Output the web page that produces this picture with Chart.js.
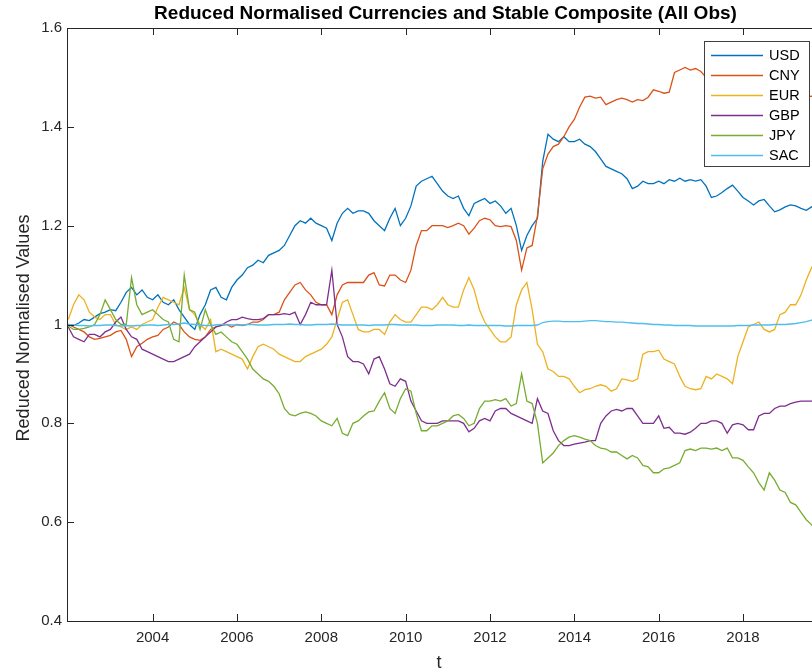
<!DOCTYPE html>
<html><head><meta charset="utf-8">
<script src="https://cdn.jsdelivr.net/npm/chart.js@4"></script>
<style>html,body{margin:0;padding:0;overflow:hidden;background:#fff;width:812px;height:672px}canvas{display:block}</style>
</head><body>
<canvas id="c" width="824" height="672"></canvas>
<script>
// time axis: eighths of a year from 2002.0 to 2019.625, plus final observation
const t = [];
for (let i = 0; i < 142; i++) t.push(2002 + i / 8);
t.push(2019.75);

const usd = [
1.000,0.998,1.003,1.010,1.008,1.015,1.022,1.025,
1.030,1.028,1.045,1.065,1.075,1.060,1.070,1.055,
1.050,1.060,1.045,1.040,1.050,1.030,1.015,1.000,
0.990,1.020,1.040,1.070,1.075,1.055,1.050,1.075,
1.090,1.100,1.115,1.120,1.130,1.125,1.140,1.145,
1.150,1.160,1.180,1.200,1.210,1.205,1.215,1.205,
1.200,1.195,1.170,1.205,1.225,1.235,1.225,1.230,
1.230,1.225,1.210,1.200,1.190,1.215,1.235,1.200,
1.215,1.240,1.280,1.290,1.295,1.300,1.285,1.270,
1.260,1.255,1.260,1.235,1.220,1.245,1.250,1.255,
1.245,1.250,1.240,1.225,1.235,1.200,1.150,1.180,
1.200,1.215,1.330,1.385,1.375,1.370,1.380,1.370,
1.370,1.375,1.365,1.360,1.350,1.335,1.320,1.315,
1.310,1.305,1.295,1.275,1.280,1.290,1.285,1.285,
1.290,1.285,1.293,1.290,1.296,1.290,1.293,1.290,
1.293,1.280,1.257,1.260,1.267,1.275,1.282,1.270,
1.257,1.250,1.242,1.250,1.253,1.240,1.228,1.232,
1.238,1.242,1.240,1.235,1.231,1.238,1.245];

const cny = [
1.000,0.995,0.990,0.985,0.975,0.970,0.972,0.975,
0.978,0.985,0.988,0.970,0.935,0.955,0.962,0.970,
0.975,0.978,0.990,0.995,1.005,1.000,0.985,0.975,
0.970,0.968,0.975,0.990,0.995,0.998,1.000,0.995,
1.000,0.998,1.000,1.005,1.005,1.010,1.020,1.020,
1.025,1.050,1.065,1.080,1.085,1.070,1.060,1.045,
1.040,1.040,1.020,1.060,1.080,1.085,1.085,1.085,
1.085,1.100,1.105,1.080,1.078,1.100,1.100,1.090,
1.085,1.110,1.160,1.190,1.190,1.200,1.200,1.200,
1.196,1.200,1.205,1.200,1.183,1.195,1.210,1.215,
1.212,1.200,1.198,1.200,1.198,1.170,1.110,1.155,
1.160,1.220,1.315,1.345,1.360,1.365,1.380,1.400,
1.415,1.440,1.460,1.462,1.458,1.460,1.445,1.450,
1.455,1.458,1.455,1.450,1.455,1.453,1.460,1.475,
1.472,1.468,1.470,1.510,1.515,1.520,1.515,1.518,
1.512,1.500,1.490,1.480,1.470,1.465,1.470,1.475,
1.480,1.485,1.480,1.475,1.470,1.465,1.460,1.470,
1.475,1.470,1.465,1.460,1.460,1.462,1.460];

const eur = [
1.010,1.040,1.060,1.050,1.025,1.015,1.010,1.020,
1.020,1.000,0.995,0.990,0.995,0.990,1.000,1.005,
1.010,1.035,1.055,1.050,1.045,1.040,1.075,1.030,
1.020,1.000,0.990,1.010,0.945,0.950,0.945,0.940,
0.935,0.930,0.910,0.935,0.955,0.960,0.955,0.950,
0.940,0.935,0.930,0.925,0.925,0.935,0.940,0.945,
0.950,0.960,0.975,1.010,1.045,1.050,1.020,0.990,
0.985,0.985,0.990,0.990,0.980,1.005,1.020,1.010,
1.005,1.005,1.020,1.035,1.035,1.030,1.040,1.055,
1.040,1.035,1.035,1.070,1.095,1.070,1.030,1.005,
0.990,0.975,0.965,0.965,0.975,1.040,1.070,1.085,
1.030,0.960,0.945,0.910,0.905,0.895,0.895,0.890,
0.875,0.862,0.868,0.870,0.875,0.878,0.875,0.865,
0.870,0.890,0.888,0.885,0.890,0.940,0.945,0.945,
0.948,0.930,0.925,0.920,0.895,0.875,0.870,0.868,
0.870,0.895,0.890,0.900,0.895,0.890,0.880,0.935,
0.965,0.995,1.000,1.005,0.990,0.985,0.990,1.020,
1.025,1.040,1.040,1.060,1.090,1.115,1.130];

const gbp = [
0.995,0.975,0.970,0.965,0.980,0.980,0.975,0.985,
0.990,1.005,1.015,0.990,0.975,0.970,0.950,0.945,
0.940,0.935,0.930,0.925,0.925,0.930,0.935,0.940,
0.955,0.965,0.975,0.985,0.995,0.998,1.005,1.010,
1.010,1.015,1.012,1.010,1.010,1.012,1.020,1.020,
1.020,1.022,1.020,1.025,1.000,1.020,1.045,1.040,
1.040,1.040,1.110,1.000,0.975,0.935,0.925,0.925,
0.920,0.900,0.930,0.935,0.910,0.880,0.875,0.890,
0.885,0.845,0.825,0.805,0.800,0.800,0.800,0.805,
0.805,0.805,0.805,0.800,0.783,0.790,0.805,0.810,
0.805,0.825,0.830,0.830,0.820,0.815,0.810,0.805,
0.800,0.850,0.825,0.820,0.785,0.765,0.755,0.755,
0.758,0.760,0.762,0.765,0.765,0.800,0.815,0.825,
0.828,0.825,0.830,0.830,0.815,0.800,0.800,0.800,
0.815,0.790,0.792,0.780,0.780,0.778,0.782,0.790,
0.800,0.800,0.805,0.805,0.800,0.780,0.797,0.800,
0.797,0.787,0.787,0.815,0.820,0.820,0.830,0.835,
0.835,0.840,0.843,0.845,0.845,0.845,0.848];

const jpy = [
0.997,0.990,0.990,0.992,0.995,1.000,1.020,1.050,
1.030,1.010,1.000,1.000,1.095,1.040,1.020,1.025,
1.030,1.020,1.010,1.005,0.970,0.965,1.100,1.030,
1.025,0.990,1.030,1.000,0.980,0.985,0.975,0.965,
0.960,0.945,0.930,0.910,0.900,0.890,0.885,0.875,
0.860,0.830,0.818,0.815,0.820,0.823,0.820,0.815,
0.805,0.800,0.795,0.810,0.780,0.775,0.800,0.805,
0.815,0.823,0.825,0.845,0.862,0.830,0.820,0.850,
0.870,0.865,0.820,0.785,0.785,0.795,0.795,0.800,
0.805,0.815,0.818,0.810,0.795,0.800,0.830,0.845,
0.845,0.848,0.845,0.850,0.835,0.840,0.900,0.845,
0.840,0.800,0.720,0.730,0.740,0.755,0.765,0.772,
0.775,0.772,0.768,0.765,0.755,0.750,0.748,0.742,
0.742,0.735,0.728,0.735,0.730,0.715,0.712,0.700,
0.700,0.708,0.710,0.715,0.720,0.745,0.748,0.745,
0.750,0.750,0.748,0.750,0.745,0.750,0.730,0.730,
0.725,0.712,0.700,0.680,0.665,0.700,0.685,0.665,
0.660,0.640,0.635,0.620,0.605,0.595,0.580];

const sac = [
1.000,0.999,0.998,0.998,0.997,0.998,0.998,0.999,
0.999,0.998,0.997,0.998,0.997,0.998,0.998,0.999,
0.999,0.998,0.999,1.000,1.000,1.001,1.003,1.001,
1.000,0.999,0.998,0.998,0.999,1.000,1.000,0.999,
0.999,0.999,1.000,1.000,0.999,0.999,0.999,1.000,
1.000,1.000,1.001,1.000,1.000,0.999,0.999,1.000,
1.000,1.000,1.001,1.000,0.999,0.999,0.999,0.999,
0.999,0.998,0.999,0.999,0.999,1.000,1.000,0.999,
0.999,0.999,0.999,0.998,0.998,0.998,0.999,0.999,
0.999,0.999,0.998,0.998,0.999,0.998,0.998,0.998,
0.998,0.998,0.998,0.997,0.997,0.998,0.998,0.998,
0.998,0.999,1.004,1.006,1.007,1.007,1.006,1.006,
1.006,1.006,1.007,1.008,1.008,1.007,1.006,1.006,
1.005,1.005,1.004,1.003,1.002,1.002,1.001,1.000,
1.000,0.999,0.999,0.998,0.998,0.998,0.998,0.997,
0.997,0.997,0.997,0.997,0.997,0.997,0.997,0.998,
0.998,0.998,0.999,0.999,0.999,0.999,1.000,1.000,
1.000,1.001,1.002,1.004,1.006,1.009,1.012];

const seriesNames = ['USD','CNY','EUR','GBP','JPY','SAC'];
const seriesColors = ['#0072BD','#D95319','#EDB120','#7E2F8E','#77AC30','#4DBEEE'];
const seriesData = [usd, cny, eur, gbp, jpy, sac];

const xTicks = [2004,2006,2008,2010,2012,2014,2016,2018];
const xTickLabels = ['2004','2006','2008','2010','2012','2014','2016','2018'];
const yTicks = [0.4,0.6,0.8,1.0,1.2,1.4,1.6];
const yTickLabels = ['0.4','0.6','0.8','1','1.2','1.4','1.6'];

const titleText = 'Reduced Normalised Currencies and Stable Composite (All Obs)';
const xLabel = 't';
const yLabel = 'Reduced Normalised Values';
const FONT = '"Liberation Sans", Arial, Helvetica, sans-serif';
const AX = '#262626';

const deco = {
  id: 'deco',
  afterDatasetsDraw(chart) {
    const {ctx, chartArea: a, scales: {x, y}} = chart;
    ctx.save();
    ctx.strokeStyle = AX; ctx.lineWidth = 1;
    ctx.strokeRect(a.left + 0.5, a.top + 0.5, a.right - a.left, a.bottom - a.top);
    ctx.beginPath();
    xTicks.forEach(v => {
      const px = Math.round(x.getPixelForValue(v)) + 0.5;
      ctx.moveTo(px, a.bottom); ctx.lineTo(px, a.bottom - 7);
      ctx.moveTo(px, a.top); ctx.lineTo(px, a.top + 7);
    });
    yTicks.forEach(v => {
      const py = Math.round(y.getPixelForValue(v)) + 0.5;
      ctx.moveTo(a.left, py); ctx.lineTo(a.left + 7, py);
      ctx.moveTo(a.right, py); ctx.lineTo(a.right - 7, py);
    });
    ctx.stroke();

    ctx.fillStyle = AX;
    ctx.font = '15px ' + FONT;
    ctx.textAlign = 'center'; ctx.textBaseline = 'top';
    xTicks.forEach((v, i) => ctx.fillText(xTickLabels[i], x.getPixelForValue(v), a.bottom + 9));
    ctx.textAlign = 'right'; ctx.textBaseline = 'middle';
    yTicks.forEach((v, i) => ctx.fillText(yTickLabels[i], a.left - 5, y.getPixelForValue(v)));

    ctx.font = '18px ' + FONT;
    ctx.textAlign = 'center'; ctx.textBaseline = 'alphabetic';
    ctx.fillText(xLabel, 439, 668);
    ctx.save();
    ctx.translate(29, 328);
    ctx.rotate(-Math.PI / 2);
    ctx.fillText(yLabel, 0, 0);
    ctx.restore();

    ctx.fillStyle = '#000';
    ctx.font = 'bold 19px ' + FONT;
    ctx.fillText(titleText, (a.left + a.right) / 2, 19);

    // legend box
    const lx = 704, ly = 41, lw = 105, lh = 125;
    ctx.fillStyle = '#fff';
    ctx.fillRect(lx, ly, lw, lh);
    ctx.strokeStyle = '#404040'; ctx.lineWidth = 1;
    ctx.strokeRect(lx + 0.5, ly + 0.5, lw, lh);
    ctx.font = '14.5px ' + FONT;
    ctx.textAlign = 'left'; ctx.textBaseline = 'middle';
    seriesNames.forEach((n, i) => {
      const yy = 55 + i * 20;
      ctx.strokeStyle = seriesColors[i]; ctx.lineWidth = 1.3;
      ctx.beginPath(); ctx.moveTo(711, yy + 0.5); ctx.lineTo(763, yy + 0.5); ctx.stroke();
      ctx.fillStyle = '#000';
      ctx.fillText(n, 769, yy + 1);
    });
    ctx.restore();
  }
};

new Chart(document.getElementById('c'), {
  type: 'line',
  data: {
    labels: t,
    datasets: seriesData.map((d, i) => ({
      label: seriesNames[i],
      data: d,
      borderColor: seriesColors[i],
      backgroundColor: seriesColors[i],
      borderWidth: 1.3,
      pointRadius: 0,
      tension: 0,
      fill: false,
      order: 6 - i
    }))
  },
  options: {
    responsive: false,
    animation: false,
    devicePixelRatio: 1,
    layout: {padding: {left: 67, top: 28, right: 0, bottom: 51}},
    plugins: {legend: {display: false}, tooltip: {enabled: false}, title: {display: false}},
    scales: {
      x: {type: 'linear', min: 2001.97, max: 2019.92, display: false},
      y: {type: 'linear', min: 0.4, max: 1.6, display: false}
    }
  },
  plugins: [deco]
});
</script>
</body></html>
